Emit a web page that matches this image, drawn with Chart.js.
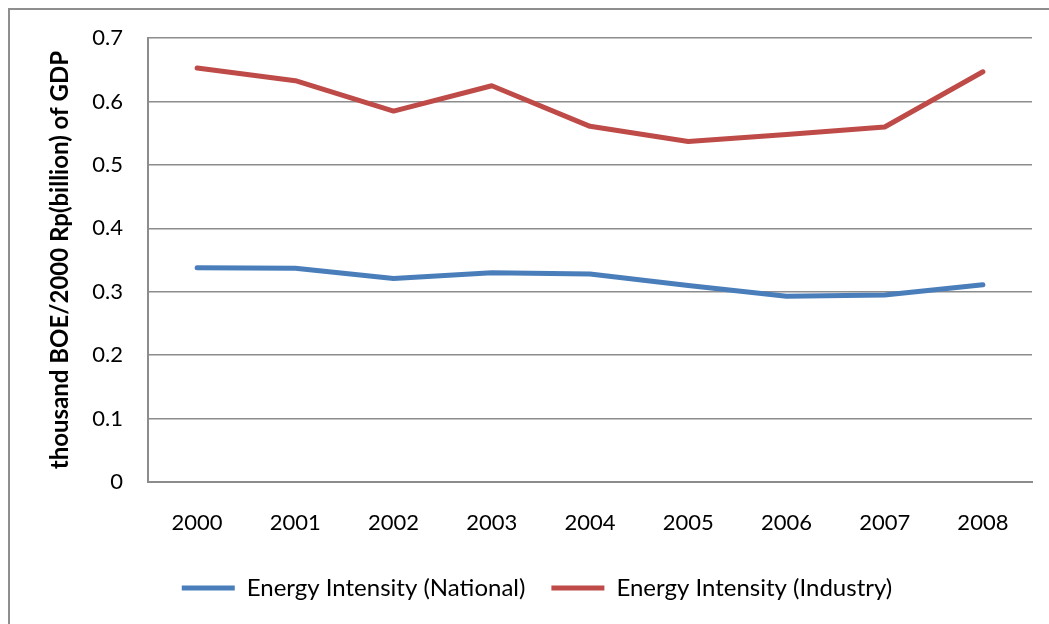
<!DOCTYPE html>
<html>
<head>
<meta charset="utf-8">
<script src="https://cdn.jsdelivr.net/npm/chart.js@4.4.0/dist/chart.umd.min.js"></script>
<style>
  html, body { margin: 0; padding: 0; background: #fff; }
  #wrap { width: 1049px; height: 624px; position: relative; }
</style>
</head>
<body>
<div id="wrap"><canvas id="energyChart" width="1049" height="624"></canvas></div>
<script>
// data
const years = ["2000", "2001", "2002", "2003", "2004", "2005", "2006", "2007", "2008"];
const nationalValues = [0.338, 0.337, 0.321, 0.330, 0.328, 0.310, 0.293, 0.295, 0.311];
const industryValues = [0.653, 0.633, 0.585, 0.625, 0.561, 0.537, 0.548, 0.560, 0.647];
const seriesNames = ["Energy Intensity (National)", "Energy Intensity (Industry)"];
const yTitle = "thousand BOE/2000 Rp(billion) of GDP";

const blue = "#4a7ebb";
const red = "#be4b48";
const gridGray = "#8c8c8c";
const fontFamily = "Lato, 'Open Sans', sans-serif";

// outer frame like the spreadsheet chart box
const frame = {
    id: "frame",
    beforeDraw(chart) {
        const ctx = chart.ctx;
        ctx.save();
        ctx.fillStyle = "#fff";
        ctx.fillRect(0, 0, chart.width, chart.height);
        ctx.strokeStyle = "#8e8e8e";
        ctx.lineWidth = 2;
        ctx.strokeRect(9, 9, 1100, 700);
        ctx.restore();
    }
};

function initializeChart() {
    const ctx = document.getElementById("energyChart");
    new Chart(ctx, {
        type: "line",
        data: {
            labels: years,
            datasets: [
                {
                    label: seriesNames[0],
                    data: nationalValues,
                    borderColor: blue,
                    backgroundColor: blue,
                    borderWidth: 5,
                    borderCapStyle: "round",
                    borderJoinStyle: "round",
                    pointRadius: 0,
                    tension: 0,
                },
                {
                    label: seriesNames[1],
                    data: industryValues,
                    borderColor: red,
                    backgroundColor: red,
                    borderWidth: 5,
                    borderCapStyle: "round",
                    borderJoinStyle: "round",
                    pointRadius: 0,
                    tension: 0,
                },
            ],
        },
        options: {
            responsive: false,
            animation: false,
            layout: {
                padding: { left: 42, right: 17, top: 37, bottom: 14 },
            },
            plugins: {
                tooltip: { enabled: false },
                legend: {
                    position: "bottom",
                    labels: {
                        boxWidth: 53,
                        boxHeight: 5,
                        padding: 26,
                        color: "#000",
                        font: { family: fontFamily, size: 24 },
                        generateLabels(chart) {
                            return chart.data.datasets.map((ds, i) => ({
                                text: ds.label,
                                fillStyle: ds.borderColor,
                                strokeStyle: ds.borderColor,
                                lineWidth: 0,
                                hidden: false,
                                datasetIndex: i,
                            }));
                        },
                    },
                },
            },
            scales: {
                x: {
                    offset: true,
                    grid: { display: false, drawTicks: false },
                    border: { display: true, color: gridGray, width: 2 },
                    ticks: {
                        padding: 28,
                        color: "#000",
                        maxRotation: 0,
                        font: { family: fontFamily, size: 22 },
                    },
                    afterFit(scale) {
                        scale.height = 68;
                    },
                },
                y: {
                    min: 0,
                    max: 0.7,
                    grid: { color: gridGray, lineWidth: 1.5, drawTicks: false },
                    border: { display: true, color: gridGray, width: 2 },
                    ticks: {
                        stepSize: 0.1,
                        padding: 25,
                        color: "#000",
                        font: { family: fontFamily, size: 22 },
                        callback: (v) => (Math.round(v * 10) / 10).toString(),
                    },
                    title: {
                        display: true,
                        text: yTitle,
                        color: "#000",
                        padding: { top: 4, bottom: 0 },
                        font: { family: fontFamily, size: 24, weight: "bold" },
                    },
                    afterFit(scale) {
                        scale.width = 106;
                    },
                },
            },
        },
        plugins: [frame],
    });
}

document.addEventListener("DOMContentLoaded", initializeChart);
</script>
</body>
</html>
